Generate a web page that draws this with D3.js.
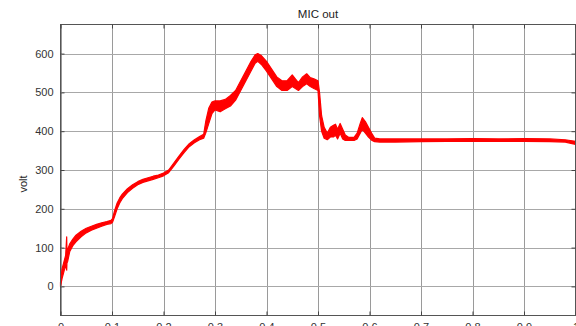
<!DOCTYPE html>
<html>
<head>
<meta charset="utf-8">
<script src="https://cdn.jsdelivr.net/npm/d3@7"></script>
<style>
  html, body { margin: 0; padding: 0; background: #fff; }
  svg { display: block; font-family: "Liberation Sans", Arial, sans-serif; }
</style>
</head>
<body>
<svg id="chart" width="576" height="326"></svg>
<script>
// Sampled microphone output: time (s) with the lower and upper edge of the noisy trace (V)
const timeS = [0.000, 0.003, 0.006, 0.010, 0.012, 0.0125, 0.014, 0.018, 0.024, 0.030,
  0.040, 0.050, 0.060, 0.070, 0.080, 0.090, 0.098, 0.101, 0.105, 0.110,
  0.115, 0.120, 0.130, 0.140, 0.150, 0.160, 0.170, 0.180, 0.190, 0.200,
  0.210, 0.220, 0.230, 0.240, 0.250, 0.260, 0.270, 0.278, 0.282, 0.288,
  0.294, 0.300, 0.310, 0.320, 0.330, 0.340, 0.350, 0.360, 0.370, 0.378,
  0.383, 0.390, 0.400, 0.410, 0.420, 0.430, 0.440, 0.450, 0.456, 0.462,
  0.470, 0.478, 0.485, 0.492, 0.500, 0.503, 0.507, 0.512, 0.518, 0.524,
  0.530, 0.534, 0.538, 0.543, 0.548, 0.553, 0.560, 0.570, 0.576, 0.582,
  0.586, 0.592, 0.598, 0.604, 0.610, 0.620, 0.650, 0.700, 0.750, 0.800,
  0.850, 0.900, 0.950, 0.980, 1.000];
const voltLow = [0, 20, 35, 55, 42, 60, 65, 90, 105, 115,
  128, 138, 145, 150, 155, 160, 162, 165, 180, 200,
  215, 226, 242, 253, 262, 268, 272, 276, 280, 285,
  293, 310, 328, 345, 360, 370, 378, 382, 395, 420,
  445, 455, 450, 458, 465, 480, 505, 530, 555, 575,
  580, 572, 555, 535, 515, 505, 505, 515, 510, 505,
  515, 522, 515, 510, 505, 440, 400, 382, 378, 385,
  385, 390, 380, 395, 380, 376, 376, 376, 380, 395,
  405, 395, 385, 377, 373, 372, 372, 373, 374, 374,
  374, 374, 373, 372, 366];
const voltHigh = [10, 45, 60, 80, 128, 92, 95, 110, 122, 132,
  142, 150, 155, 160, 164, 167, 170, 175, 195, 215,
  228, 238, 252, 262, 270, 276, 280, 284, 287, 292,
  300, 318, 336, 353, 368, 378, 386, 392, 425, 460,
  475, 478, 478, 482, 492, 505, 530, 555, 580, 597,
  600, 595, 580, 560, 540, 530, 530, 545, 535, 525,
  540, 548, 538, 535, 530, 500, 440, 410, 395, 410,
  415, 418, 405, 420, 405, 390, 384, 384, 395, 420,
  435, 425, 410, 395, 382, 380, 380, 380, 380, 381,
  380, 381, 380, 378, 374];

const xTicks = [0, 0.1, 0.2, 0.3, 0.4, 0.5, 0.6, 0.7, 0.8, 0.9, 1];
const xTickLabels = ["0", "0.1", "0.2", "0.3", "0.4", "0.5", "0.6", "0.7", "0.8", "0.9", "1"];
const yTicks = [0, 100, 200, 300, 400, 500, 600];
const chartTitle = "MIC out";
const yLabel = "volt";

const svg = d3.select("#chart");
const plotLeft = 60.5, plotRight = 575.5, plotTop = 24.5, plotBottom = 315.5;

const x = d3.scaleLinear().domain([0, 1]).range([plotLeft, plotRight]);
const y = d3.scaleLinear().domain([-75, 675]).range([plotBottom, plotTop]);

// grid
const grid = svg.append("g");
grid.selectAll("line.gx").data(xTicks).join("line")
  .attr("x1", d => Math.round(x(d)) + 0.5).attr("x2", d => Math.round(x(d)) + 0.5)
  .attr("y1", plotTop).attr("y2", plotBottom)
  .attr("stroke", "#9a9a9a").attr("stroke-width", 1);
grid.selectAll("line.gy").data(yTicks).join("line")
  .attr("y1", d => Math.round(y(d)) + 0.5).attr("y2", d => Math.round(y(d)) + 0.5)
  .attr("x1", plotLeft).attr("x2", plotRight)
  .attr("stroke", "#a8a8a8").attr("stroke-width", 1);

// noisy trace as a band between its lower and upper edge
const rows = timeS.map((t, i) => ({ t, lo: voltLow[i], hi: voltHigh[i] }));
svg.append("path")
  .datum(rows)
  .attr("fill", "#ff0000")
  .attr("stroke", "#ff0000")
  .attr("stroke-width", 1.2)
  .attr("stroke-linejoin", "round")
  .attr("d", d3.area().x(d => x(d.t)).y0(d => y(d.lo)).y1(d => y(d.hi)));

// axes box with inward ticks
svg.append("rect").attr("x", plotLeft).attr("y", plotTop)
  .attr("width", plotRight - plotLeft).attr("height", plotBottom - plotTop)
  .attr("fill", "none").attr("stroke", "#555").attr("stroke-width", 1);

const axB = d3.axisBottom(x).tickValues(xTicks).tickSize(-4).tickPadding(12)
  .tickFormat((d, i) => xTickLabels[i]);
const gB = svg.append("g").attr("transform", `translate(0,${plotBottom})`).call(axB);
const axT = d3.axisTop(x).tickValues(xTicks).tickSize(-4).tickFormat("");
const gT = svg.append("g").attr("transform", `translate(0,${plotTop})`).call(axT);
const axL = d3.axisLeft(y).tickValues(yTicks).tickSize(-4).tickPadding(10);
const gL = svg.append("g").attr("transform", `translate(${plotLeft},0)`).call(axL);
const axR = d3.axisRight(y).tickValues(yTicks).tickSize(-4).tickFormat("");
const gR = svg.append("g").attr("transform", `translate(${plotRight},0)`).call(axR);

[gB, gT, gL, gR].forEach(g => {
  g.select(".domain").remove();
  g.selectAll(".tick line").attr("stroke", "#444");
  g.selectAll(".tick text").attr("fill", "#333").attr("font-size", 11)
    .attr("font-family", "'Liberation Sans', Arial, sans-serif");
});
gB.selectAll(".tick text").attr("dy", "0.71em").attr("y", 8);
gL.selectAll(".tick text").attr("x", -7);

svg.append("text")
  .attr("x", (plotLeft + plotRight) / 2).attr("y", 18)
  .attr("text-anchor", "middle").attr("font-size", 11.5).attr("fill", "#222")
  .text(chartTitle);

svg.append("text")
  .attr("transform", `translate(27,${(plotTop + plotBottom) / 2 + 14}) rotate(-90)`)
  .attr("text-anchor", "middle").attr("font-size", 11).attr("fill", "#222")
  .text(yLabel);
</script>
</body>
</html>
